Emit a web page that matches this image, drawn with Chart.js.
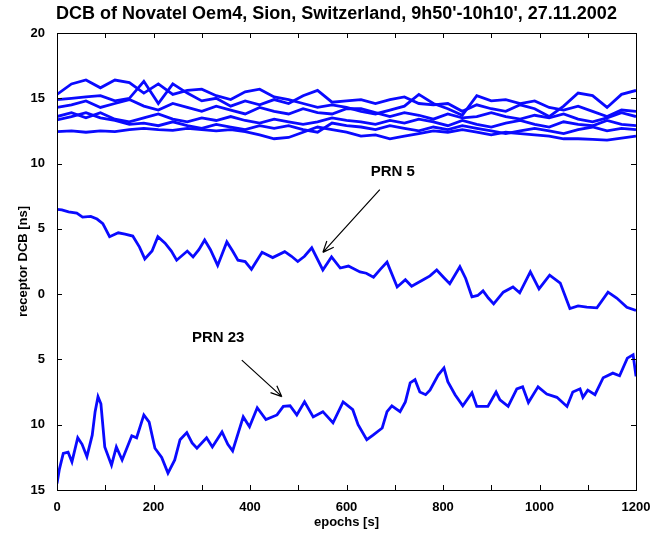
<!DOCTYPE html>
<html>
<head>
<meta charset="utf-8">
<script src="https://cdn.jsdelivr.net/npm/chart.js@4/dist/chart.umd.min.js"></script>
<style>
  html, body { margin: 0; padding: 0; background: #fff; }
  #wrap { width: 667px; height: 537px; }
</style>
</head>
<body>
<div id="wrap"><canvas id="dcbChart" width="667" height="537"></canvas></div>
<script>
// ---- data ----
const gridEpochs = [0, 30, 60, 90, 120, 150, 180, 210, 240, 270, 300, 330, 360, 390, 420, 450, 480, 510, 540, 570, 600,
  630, 660, 690, 720, 750, 780, 810, 840, 870, 900, 930, 960, 990, 1020, 1050, 1080, 1110, 1140, 1170, 1200];

const sat1 = [15.3, 16.1, 16.4, 15.8, 16.4, 16.2, 15.4, 16.1, 15.3, 15.6, 15.7, 15.2, 14.9, 15.5, 15.7, 15.1, 14.9, 14.6, 14.3, 14.5, 14.3,
  14.0, 13.8, 14.1, 14.4, 15.3, 14.6, 14.2, 13.7, 15.2, 14.8, 14.9, 14.6, 14.8, 14.3, 14.1, 14.4, 14.0, 13.6, 14.1, 14.0];
const sat2 = [14.9, 15.0, 15.1, 15.2, 14.8, 15.0, 16.3, 14.6, 16.1, 15.4, 14.8, 15.0, 14.4, 14.8, 14.5, 14.9, 14.6, 15.2, 15.6, 14.7, 14.8,
  14.9, 14.6, 14.9, 15.1, 14.6, 14.5, 14.6, 14.0, 14.5, 14.2, 14.0, 14.5, 14.2, 13.6, 14.4, 15.4, 15.2, 14.3, 15.3, 15.6];
const sat3 = [14.3, 14.5, 14.8, 14.3, 14.6, 14.9, 14.4, 14.1, 14.6, 14.3, 14.0, 14.4, 14.1, 13.8, 14.3, 14.0, 13.8, 14.2, 13.9, 13.8, 14.2,
  14.2, 13.9, 13.6, 13.9, 13.7, 13.4, 13.8, 13.5, 13.6, 13.9, 13.6, 13.4, 13.7, 13.5, 13.8, 13.4, 13.2, 13.5, 13.9, 13.6];
const sat4 = [13.6, 13.9, 13.5, 13.9, 13.4, 13.2, 13.5, 13.8, 13.4, 13.2, 13.5, 13.3, 13.6, 13.3, 13.1, 13.4, 13.2, 13.0, 13.2, 13.5, 13.3,
  13.2, 13.0, 13.3, 13.1, 13.4, 13.2, 12.9, 13.3, 13.0, 12.8, 13.1, 13.3, 13.0, 12.8, 13.2, 13.0, 12.9, 13.3, 13.0, 12.9];
const sat5 = [13.35, 13.6, 13.9, 13.5, 13.3, 13.0, 13.1, 12.9, 13.2, 12.9, 12.7, 13.0, 12.8, 12.6, 12.9, 12.7, 12.9, 12.6, 12.4, 13.1, 12.9,
  12.8, 12.6, 12.9, 12.7, 12.5, 12.8, 12.6, 12.9, 12.7, 12.5, 12.3, 12.5, 12.7, 12.5, 12.3, 12.6, 12.8, 12.5, 12.7, 12.6];
const sat6 = [12.45, 12.5, 12.4, 12.5, 12.45, 12.6, 12.7, 12.6, 12.55, 12.7, 12.6, 12.5, 12.6, 12.45, 12.2, 11.9, 12.0, 12.4, 12.8, 12.6, 12.4,
  12.1, 12.2, 11.9, 12.1, 12.3, 12.5, 12.4, 12.6, 12.4, 12.2, 12.4, 12.3, 12.2, 12.1, 11.9, 11.9, 11.85, 11.8, 11.95, 12.1];

const prn5Epochs = [0, 10, 24, 41, 53, 70, 83, 95, 109, 127, 141, 157, 171, 182, 197, 209, 224, 237, 248, 270, 282, 294, 306, 318,
  333, 352, 364, 375, 390, 403, 425, 447, 472, 486, 499, 513, 528, 551, 569, 587, 604, 628, 641, 656, 670, 684, 705, 722, 735,
  759, 773, 787, 801, 814, 835, 847, 860, 872, 883, 894, 905, 925, 945, 959, 981, 999, 1021, 1043, 1063, 1080, 1098, 1119,
  1142, 1160, 1181, 1200];
const prn5Dcb = [6.5, 6.45, 6.3, 6.2, 5.9, 5.95, 5.75, 5.4, 4.4, 4.7, 4.6, 4.45, 3.6, 2.7, 3.3, 4.4, 3.9, 3.3, 2.6, 3.3, 2.85, 3.4, 4.15, 3.4,
  2.2, 4.0, 3.3, 2.6, 2.5, 1.9, 3.2, 2.8, 3.25, 2.9, 2.5, 2.9, 3.55, 1.85, 2.85, 2.0, 2.15, 1.7, 1.6, 1.3, 1.9, 2.45, 0.55, 1.1, 0.6,
  1.1, 1.4, 1.85, 1.3, 0.8, 2.1, 1.2, -0.2, -0.1, 0.25, -0.3, -0.75, 0.15, 0.55, 0.1, 1.7, 0.4, 1.45, 0.85, -1.1, -0.9, -1.0, -1.05,
  0.15, -0.3, -1.0, -1.25];

const prn23Epochs = [0, 5, 13, 23, 31, 43, 52, 62, 73, 79, 85, 91, 99, 113, 123, 135, 155, 165, 180, 191, 203, 217, 230, 244,
  255, 269, 280, 290, 310, 322, 342, 354, 364, 386, 399, 415, 433, 456, 469, 483, 497, 513, 531, 551, 572, 593, 613, 624, 642,
  655, 674, 684, 694, 711, 722, 732, 742, 752, 764, 773, 790, 802, 810, 825, 841, 860, 870, 893, 910, 918, 935, 953, 965, 977,
  997, 1015, 1036, 1057, 1069, 1084, 1090, 1100, 1115, 1132, 1152, 1166, 1182, 1194, 1200];
const prn23Dcb = [-14.5, -13.4, -12.2, -12.1, -12.85, -11.0, -11.5, -12.45, -10.8, -9.0, -7.85, -8.4, -11.7, -13.1, -11.7, -12.7,
  -10.85, -11.0, -9.25, -9.8, -11.8, -12.5, -13.7, -12.7, -11.15, -10.6, -11.4, -11.8, -11.0, -11.7, -10.55, -11.5, -12.0, -9.4,
  -10.15, -8.7, -9.6, -9.25, -8.6, -8.55, -9.25, -8.25, -9.4, -9.0, -9.85, -8.25, -8.85, -10.0, -11.15, -10.8, -10.25, -9.0, -8.55,
  -9.0, -8.25, -6.8, -6.55, -7.5, -7.7, -7.35, -6.2, -5.65, -6.7, -7.7, -8.55, -7.55, -8.6, -8.6, -7.5, -8.1, -8.6, -7.25, -7.1,
  -8.3, -7.1, -7.65, -7.9, -8.6, -7.5, -7.25, -7.9, -7.35, -7.7, -6.4, -6.05, -6.25, -4.9, -4.65, -6.3];

const yTickValues = [20, 15, 10, 5, 0, -5, -10, -15];
const yTickLabels = ["20", "15", "10", "5", "0", "5", "10", "15"];
const xLabelValues = [0, 200, 400, 600, 800, 1000, 1200];

const chartTitle = "DCB of Novatel Oem4, Sion, Switzerland, 9h50'-10h10', 27.11.2002";

// annotation text + arrow ends, in data units (epoch, ns)
const notes = [
  { text: "PRN 5", at: [696, 9.35], from: [669, 8.0], to: [551, 3.2] },
  { text: "PRN 23", at: [334, -3.35], from: [383, -5.05], to: [466, -7.85] },
];

const BLUE = "#0a0aff";
const FONT = "'Liberation Sans', Arial, sans-serif";

function toPoints(xs, ys) {
  return xs.map((x, i) => ({ x: x, y: ys[i] }));
}

const topSats = [sat1, sat2, sat3, sat4, sat5, sat6];
const datasets = topSats.map((vals, i) => ({
  label: "sat " + (i + 1),
  data: toPoints(gridEpochs, vals),
}));
datasets.push({ label: "PRN 5", data: toPoints(prn5Epochs, prn5Dcb) });
datasets.push({ label: "PRN 23", data: toPoints(prn23Epochs, prn23Dcb) });
datasets.forEach((d) => {
  d.borderColor = BLUE;
  d.borderWidth = 2.8;
  d.pointRadius = 0;
  d.tension = 0;
  d.fill = false;
});

// frame with inward ticks on all four sides, title, arrows and labels
const framePlugin = {
  id: "frame",
  afterDatasetsDraw(chart) {
    const { ctx, chartArea: a, scales } = chart;
    const xs = scales.x, ys = scales.y;
    ctx.save();
    ctx.strokeStyle = "#000";
    ctx.lineWidth = 1;
    ctx.strokeRect(a.left + 0.5, a.top + 0.5, a.right - a.left, a.bottom - a.top);
    const len = 5;
    ctx.beginPath();
    for (let v = 0; v <= 1200; v += 100) {
      const px = Math.round(xs.getPixelForValue(v)) + 0.5;
      ctx.moveTo(px, a.bottom); ctx.lineTo(px, a.bottom - len);
      ctx.moveTo(px, a.top); ctx.lineTo(px, a.top + len);
    }
    yTickValues.forEach((v) => {
      const py = Math.round(ys.getPixelForValue(v)) + 0.5;
      ctx.moveTo(a.left, py); ctx.lineTo(a.left + len, py);
      ctx.moveTo(a.right, py); ctx.lineTo(a.right - len, py);
    });
    ctx.stroke();

    // title, centred on the page like the original figure
    ctx.fillStyle = "#000";
    ctx.textAlign = "center";
    ctx.textBaseline = "middle";
    ctx.font = "bold 18px " + FONT;
    ctx.fillText(chartTitle, chart.width / 2 + 3, 14);

    // annotations
    ctx.font = "bold 15px " + FONT;
    notes.forEach((n) => {
      ctx.fillText(n.text, xs.getPixelForValue(n.at[0]), ys.getPixelForValue(n.at[1]));
      const x1 = xs.getPixelForValue(n.from[0]), y1 = ys.getPixelForValue(n.from[1]);
      const x2 = xs.getPixelForValue(n.to[0]), y2 = ys.getPixelForValue(n.to[1]);
      ctx.beginPath();
      ctx.lineWidth = 1.2;
      ctx.moveTo(x1, y1); ctx.lineTo(x2, y2);
      const ang = Math.atan2(y2 - y1, x2 - x1);
      const h = 12;
      ctx.moveTo(x2, y2);
      ctx.lineTo(x2 - h * Math.cos(ang - 0.4), y2 - h * Math.sin(ang - 0.4));
      ctx.moveTo(x2, y2);
      ctx.lineTo(x2 - h * Math.cos(ang + 0.4), y2 - h * Math.sin(ang + 0.4));
      ctx.stroke();
    });
    ctx.restore();
  },
};

new Chart(document.getElementById("dcbChart"), {
  type: "line",
  data: { datasets: datasets },
  plugins: [framePlugin],
  options: {
    responsive: false,
    animation: false,
    layout: { padding: { left: 0, right: 31, top: 33, bottom: 0 } },
    plugins: {
      legend: { display: false },
      tooltip: { enabled: false },
      title: { display: false },
    },
    scales: {
      x: {
        type: "linear",
        min: 0,
        max: 1200,
        afterBuildTicks: (s) => { s.ticks = xLabelValues.map((v) => ({ value: v })); },
        ticks: {
          color: "#000",
          font: { family: FONT, size: 13, weight: "bold" },
          padding: 2,
          maxRotation: 0,
          callback: (v) => String(v),
        },
        grid: { display: false },
        border: { display: false },
        title: {
          display: true,
          text: "epochs [s]",
          color: "#000",
          font: { family: FONT, size: 13, weight: "bold" },
          padding: { top: 0, bottom: 7 },
        },
        afterFit: (s) => { s.height = 47; },
      },
      y: {
        type: "linear",
        min: -15,
        max: 20,
        afterBuildTicks: (s) => { s.ticks = yTickValues.map((v) => ({ value: v })); },
        ticks: {
          color: "#000",
          font: { family: FONT, size: 13, weight: "bold" },
          padding: 4,
          callback: (v) => yTickLabels[yTickValues.indexOf(v)],
        },
        grid: { display: false },
        border: { display: false },
        title: {
          display: true,
          text: "receptor DCB [ns]",
          color: "#000",
          font: { family: FONT, size: 13, weight: "bold" },
          padding: { top: 16, bottom: 0 },
        },
        afterFit: (s) => { s.width = 57; },
      },
    },
  },
});
</script>
</body>
</html>
